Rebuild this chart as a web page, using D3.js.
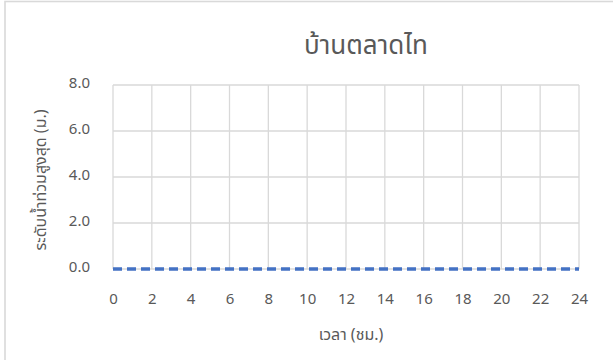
<!DOCTYPE html>
<html><head><meta charset="utf-8">
<script src="https://cdn.jsdelivr.net/npm/d3@7"></script>
<style>
body{margin:0;background:#fff;overflow:hidden;}
text{font-family:"Noto Sans Thai","Noto Sans","DejaVu Sans",sans-serif;}
</style></head>
<body>
<script>
const title = "บ้านตลาดไท";
const xTitle = "เวลา (ชม.)";
const yTitle = "ระดับน้ำท่วมสูงสุด (ม.)";
const hours = [0,1,2,3,4,5,6,7,8,9,10,11,12,13,14,15,16,17,18,19,20,21,22,23,24];
const levels = [0,0,0,0,0,0,0,0,0,0,0,0,0,0,0,0,0,0,0,0,0,0,0,0,0];
const xTicks = [0,2,4,6,8,10,12,14,16,18,20,22,24];
const yTicks = [0,2,4,6,8];

const W=613,H=360;
const svg=d3.select("body").append("svg").attr("width",W).attr("height",H).style("display","block");
svg.append("rect").attr("x",5).attr("y",1.5).attr("width",620).attr("height",380)
  .attr("fill","#fff").attr("stroke","#d9d9d9").attr("stroke-width",1.6);

const m={l:113,r:579,t:85,b:269};
const x=d3.scaleLinear().domain([0,24]).range([m.l,m.r]);
const y=d3.scaleLinear().domain([0,8]).range([m.b,m.t]);

const g=svg.append("g");
g.selectAll(".hg").data(yTicks).join("line")
  .attr("x1",m.l).attr("x2",m.r).attr("y1",d=>y(d)).attr("y2",d=>y(d))
  .attr("stroke","#d9d9d9").attr("stroke-width",1.3);
g.selectAll(".vg").data(xTicks).join("line")
  .attr("y1",m.t).attr("y2",m.b).attr("x1",d=>x(d)).attr("x2",d=>x(d))
  .attr("stroke","#d9d9d9").attr("stroke-width",1.3);

const yAxis=d3.axisLeft(y).tickValues(yTicks).tickFormat(d3.format(".1f")).tickSize(0).tickPadding(23);
const ya=svg.append("g").attr("transform",`translate(${m.l},0)`).call(yAxis);
ya.select(".domain").remove();
ya.selectAll("text").attr("fill","#595959").attr("dy","0.18em").style("font-size","15px");

const xAxis=d3.axisBottom(x).tickValues(xTicks).tickSize(0).tickPadding(24);
const xa=svg.append("g").attr("transform",`translate(0,${m.b})`).call(xAxis);
xa.select(".domain").remove();
xa.selectAll("text").attr("fill","#595959").style("font-size","15px");

const line=d3.line().x((d,i)=>x(hours[i])).y(d=>y(d));
svg.append("path").datum(levels).attr("d",line).attr("fill","none")
  .attr("stroke","#4472c4").attr("stroke-width",3.3).attr("stroke-dasharray","9,5");

svg.append("text").attr("x",366).attr("y",54).attr("text-anchor","middle")
  .attr("fill","#595959").style("font-size","26px").text(title);
svg.append("text").attr("x",351).attr("y",340).attr("text-anchor","middle")
  .attr("fill","#595959").style("font-size","16px").text(xTitle);
svg.append("text").attr("transform","translate(46,180) rotate(-90)").attr("text-anchor","middle")
  .attr("fill","#595959").style("font-size","16px").text(yTitle);
</script>
</body></html>
